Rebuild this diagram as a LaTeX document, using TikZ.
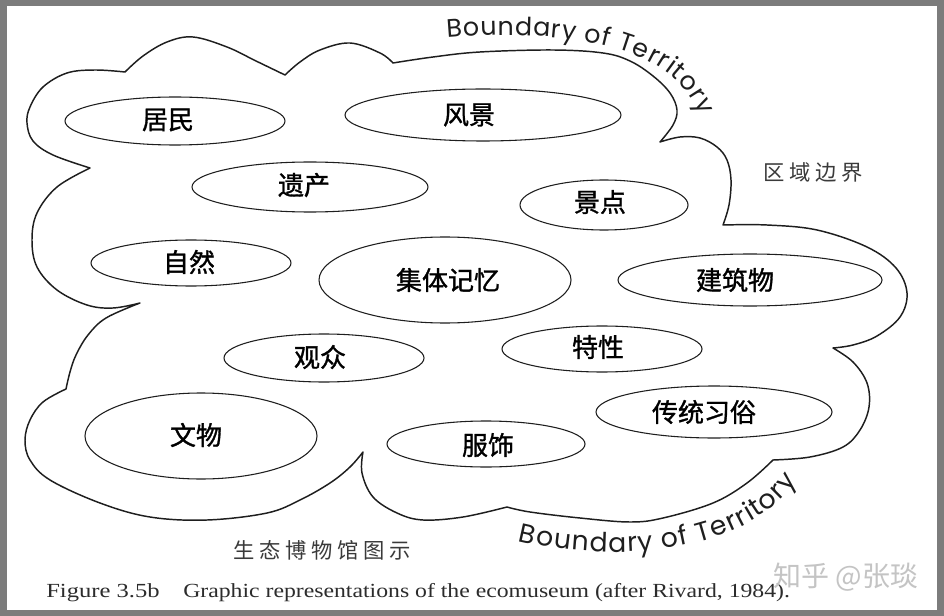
\documentclass[tikz,border=0pt]{standalone}
\usepackage{fontspec}
\usepackage{graphicx}
\setmainfont{Liberation Serif}
\newfontfamily\cjk{Noto Sans CJK SC}
\newfontfamily\cjklbl[FakeBold=1.2]{Noto Sans CJK SC}
\newfontfamily\cjkspaced[LetterSpace=22]{Noto Sans CJK SC}
\newfontfamily\bndfont{Poppins}
\usetikzlibrary{shapes.geometric,decorations.text}
\definecolor{framegray}{HTML}{7C7C7C}
\definecolor{inkc}{HTML}{1E1E1E}
\definecolor{softink}{HTML}{3A3A3A}
\definecolor{capgray}{HTML}{2C2C2C}
\definecolor{wmgray}{HTML}{C4C4C4}
\begin{document}
\begin{tikzpicture}[x=0.75pt,y=-0.75pt,
  bubble/.style={ellipse, draw=inkc, line width=0.8pt, inner sep=0pt},
  lbl/.style={inner sep=0pt, text=black, font=\cjklbl\fontsize{19.5}{20}\selectfont},
  note/.style={inner sep=0pt, text=softink, font=\cjkspaced\fontsize{16}{17}\selectfont},
  cloud/.style={draw=inkc, line width=1.1pt, line join=round},
  caption/.style={anchor=base west, inner sep=0pt, text=capgray, font=\fontsize{15}{16}\selectfont}
]
% frame and bounding box
\fill[framegray] (0,0) rectangle (944,616);
\fill[white] (7,6) rectangle (937,610);
\useasboundingbox (0,0) rectangle (944,616);

% territory outline
\draw[cloud]
  plot[smooth, tension=0.6] coordinates {(125,72) (143,56) (167,42) (193,37) (227,47) (256,61) (285,75)}
  -- plot[smooth, tension=0.6] coordinates {(285,75) (300,62) (320,50) (350,43) (380,53) (393,63)}
  -- plot[smooth, tension=0.6] coordinates {(393,63) (433,57) (480,52) (553,50) (603,53) (630,61) (653,76) (670,93) (677,110) (673,125) (660,142)}
  -- plot[smooth, tension=0.6] coordinates {(660,142) (680,137) (700,138) (717,147) (727,160) (731,180) (729,205) (723,225)}
  -- plot[smooth, tension=0.6] coordinates {(723,225) (767,225) (817,230) (867,247) (896,268) (907,293) (900,317) (877,336) (853,345) (833,348)}
  -- plot[smooth, tension=0.6] coordinates {(833,348) (853,362) (867,383) (869,407) (860,430) (843,447) (810,457) (773,460)}
  -- plot[smooth, tension=0.6] coordinates {(773,460) (747,483) (713,503) (663,518) (630,522) (580,518) (530,512) (507,507)}
  -- plot[smooth, tension=0.6] coordinates {(507,507) (463,517) (423,520) (397,513) (373,497) (362,473) (363,452)}
  -- plot[smooth, tension=0.6] coordinates {(363,452) (350,467) (330,483) (300,500) (267,513) (207,520) (150,517) (100,503) (50,480) (30,460) (25,440) (30,420) (43,402) (66,389)}
  -- plot[smooth, tension=0.6] coordinates {(66,389) (70,372) (76,355) (88,335) (106,318) (140,303)}
  -- plot[smooth, tension=0.6] coordinates {(140,303) (113,308) (87,305) (57,290) (37,267) (32,240) (37,213) (57,187) (90,168)}
  -- plot[smooth, tension=0.6] coordinates {(90,168) (53,155) (33,141) (27,123) (30,107) (43,87) (67,73) (95,70) (125,72)}
  -- cycle;

% ellipses
\node[bubble, minimum width=165pt, minimum height=36pt]   (e1)  at (175,121) {};
\node[bubble, minimum width=207pt, minimum height=39pt]   (e2)  at (483,115) {};
\node[bubble, minimum width=177pt, minimum height=37.5pt] (e3)  at (310,187) {};
\node[bubble, minimum width=126pt, minimum height=37.5pt] (e4)  at (604,205) {};
\node[bubble, minimum width=150pt, minimum height=34.5pt] (e5)  at (191,263) {};
\node[bubble, minimum width=189pt, minimum height=64.5pt] (e6)  at (445,280) {};
\node[bubble, minimum width=198pt, minimum height=39pt]   (e7)  at (750,280) {};
\node[bubble, minimum width=150pt, minimum height=36pt]   (e8)  at (324,358) {};
\node[bubble, minimum width=150pt, minimum height=34.5pt] (e9)  at (602,349) {};
\node[bubble, minimum width=174pt, minimum height=64.5pt] (e10) at (201,436) {};
\node[bubble, minimum width=148.5pt, minimum height=34.5pt] (e11) at (486,444) {};
\node[bubble, minimum width=177pt, minimum height=39pt]   (e12) at (714,412) {};

% labels
\node[lbl] (t1)  at (168,120) {居民};
\node[lbl] (t2)  at (469,115) {风景};
\node[lbl] (t3)  at (304,185) {遗产};
\node[lbl] (t4)  at (600,202) {景点};
\node[lbl] (t5)  at (189,262) {自然};
\node[lbl] (t6)  at (448,280) {集体记忆};
\node[lbl] (t7)  at (735,280) {建筑物};
\node[lbl] (t8)  at (320,357) {观众};
\node[lbl] (t9)  at (598,347) {特性};
\node[lbl] (t10) at (196,435) {文物};
\node[lbl] (t11) at (488,445) {服饰};
\node[lbl] (t12) at (704,412) {传统习俗};

% side notes
\node[note] (region) at (813,172) {区域边界};
\node[note] (title)  at (322,550) {生态博物馆图示};

% curved labels
\path[decorate, decoration={text along path, text color=inkc,
      text={|\bndfont\fontsize{19}{19}\selectfont|Boundary of Territory}, text align=fit to path}]
  (447,38) .. controls (540,30) and (672,36) .. (700,116);
\path[decorate, decoration={text along path, text color=inkc,
      text={|\bndfont\fontsize{20}{20}\selectfont|Boundary of Territory}, text align=fit to path}]
  (518,541) .. controls (585,558) and (735,566) .. (797,481);

% caption
\node[caption] (fig) at (46,597) {\resizebox{85pt}{\height}{Figure 3.5b}};
\node[caption] (cap) at (183,597) {\resizebox{455pt}{\height}{Graphic representations of the ecomuseum (after Rivard, 1984).}};

% watermark
\node[inner sep=0pt, text=wmgray, font=\cjk\fontsize{21}{22}\selectfont] (wm) at (846,577) {知乎 @张琰};
\end{tikzpicture}
\end{document}
